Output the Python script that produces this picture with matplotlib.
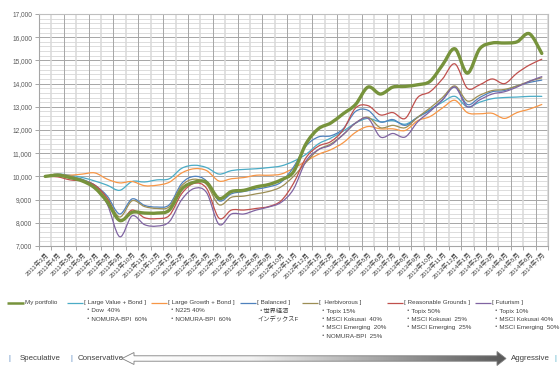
import numpy as np
import matplotlib
matplotlib.use("Agg")
import matplotlib.pyplot as plt
from matplotlib.path import Path
from matplotlib.patches import PathPatch, Polygon
from matplotlib.colors import LinearSegmentedColormap

plt.rcParams['font.family'] = ['Liberation Sans', 'Noto Sans CJK JP', 'DejaVu Sans']

# months 2011/3 .. 2014/7
months = []
for y in range(2011, 2015):
    for m in range(1, 13):
        if (y == 2011 and m < 3) or (y == 2014 and m > 7):
            continue
        months.append(f"{y}年{m}月")

my_portfolio = [10000, 10050, 9950, 9800, 9500, 8900, 8100, 8450, 8420, 8420,
                8550, 9450, 9750, 9740, 9050, 9350, 9400, 9550, 9650, 9850,
                10200, 11400, 12050, 12300, 12700, 13100, 13850, 13550, 13850, 13880,
                13950, 14100, 14800, 15500, 14450, 15500, 15750, 15750, 15800, 16150,
                15300]
large_value = [10000, 10100, 10050, 9950, 9800, 9620, 9400, 9780, 9760, 9850,
               9900, 10350, 10480, 10380, 10100, 10250, 10300, 10330, 10380, 10450,
               10650, 10950, 11400, 11650, 11950, 12300, 12500, 12350, 12400, 12250,
               12550, 12880, 13200, 13450, 13000, 13200, 13350, 13400, 13420, 13450,
               13450]
large_growth = [10000, 10050, 10050, 10100, 10150, 9880, 9720, 9780, 9600, 9620,
                9750, 10150, 10330, 10250, 9800, 9900, 9950, 10050, 10050, 10100,
                10350, 10650, 10950, 11150, 11450, 11900, 12150, 12050, 12050, 11980,
                12400, 12580, 12950, 13280, 12750, 12700, 12720, 12500, 12750, 12900,
                13100]
balanced = [10000, 10080, 10000, 9870, 9620, 9150, 8380, 9030, 8750, 8680,
            8780, 9700, 10000, 9800, 8950, 9250, 9350, 9450, 9550, 9750,
            10400, 11300, 11700, 11750, 12050, 12800, 12850, 12350, 12450, 12200,
            12550, 12850, 13300, 13850, 13100, 13400, 13650, 13700, 13900, 14050,
            14150]
herbivorous = [10000, 10100, 10000, 9850, 9600, 9050, 8250, 8950, 8700, 8620,
               8700, 9600, 9880, 9650, 8780, 9100, 9150, 9250, 9350, 9550,
               10000, 10600, 11150, 11400, 11800, 12300, 12550, 12100, 12200, 12100,
               12550, 12950, 13400, 13900, 13250, 13500, 13700, 13750, 13900, 14100,
               14250]
reasonable = [10000, 9980, 9850, 9800, 9620, 9050, 8080, 8550, 8220, 8180,
              8320, 9260, 9700, 9480, 8200, 8550, 8550, 8620, 8700, 8950,
              9700, 10800, 11300, 11500, 12000, 12950, 13050, 12650, 12750, 12500,
              13400, 13650, 14200, 14850, 13800, 13950, 14200, 14000, 14450, 14800,
              15050]
futurism = [10000, 10050, 9950, 9800, 9550, 8800, 7400, 8300, 7920, 7860,
            8050, 9000, 9480, 9300, 7930, 8380, 8380, 8550, 8680, 8880,
            9450, 10650, 11150, 11350, 11800, 12300, 12500, 11700, 11850, 11700,
            12350, 12800, 13300, 13850, 13000, 13300, 13550, 13650, 13850, 14100,
            14300]

series_names = ["My portfolio", "[ Large Value + Bond ]", "[ Large Growth + Bond ]",
                "[ Balanced ]", "[  Herbivorous ]", "[ Reasonable Grounds ]", "[ Futurism ]"]
series_values = [my_portfolio, large_value, large_growth, balanced,
                 herbivorous, reasonable, futurism]
series_notes = [[],
                ["・Dow  40%", "・NOMURA-BPI  60%"],
                ["・N225 40%", "・NOMURA-BPI  60%"],
                ["・世界経済", "インデックスF"],
                ["・Topix 15%", "・MSCI Kokusai  40%", "・MSCI Emerging  20%", "・NOMURA-BPI  25%"],
                ["・Topix 50%", "・MSCI Kokusai  25%", "・MSCI Emerging  25%"],
                ["・Topix 10%", "・MSCI Kokusai 40%", "・MSCI Emerging  50%"]]
colors = ["#77933C", "#4BACC6", "#F79646", "#4F81BD", "#9C8E55", "#C0504D", "#8064A2"]
y_ticks = list(range(7000, 17001, 1000))


def smooth_path(xs, ys):
    # Excel-like smoothed line: Catmull-Rom segments as cubic Beziers
    pts = np.column_stack([xs, ys]).astype(float)
    n = len(pts)
    verts = [pts[0]]
    codes = [Path.MOVETO]
    for i in range(n - 1):
        p0 = pts[i - 1] if i > 0 else pts[i]
        p1 = pts[i]
        p2 = pts[i + 1]
        p3 = pts[i + 2] if i + 2 < n else pts[i + 1]
        verts += [p1 + (p2 - p0) / 6.0, p2 - (p3 - p1) / 6.0, p2]
        codes += [Path.CURVE4] * 3
    return Path(verts, codes)


fig = plt.figure(figsize=(5.6, 3.72), dpi=100)
ax = fig.add_axes([39 / 560, 1 - 246 / 372, 509 / 560, 232 / 372])

x = np.arange(len(months))
ax.set_xlim(-0.5, len(months) - 0.5)
ax.set_ylim(7000, 17000)

# gridlines
for v in range(7000, 17001, 200):
    ax.axhline(v, color="#a6a6a6" if v % 1000 == 0 else "#dcdcdc", lw=0.7, zorder=0)
for i in range(len(months) + 1):
    ax.axvline(i - 0.5, color="#a6a6a6" if i % 2 == 0 else "#d9d9d9",
               lw=0.7 if i % 2 == 0 else 1.1, zorder=0)

widths = [2.4, 0.9, 0.9, 0.9, 0.9, 0.9, 0.9]
for vals, col, lw in zip(series_values, colors, widths):
    ax.add_patch(PathPatch(smooth_path(x, vals), fill=False, edgecolor=col, lw=lw,
                           capstyle="round", joinstyle="round", zorder=3 if lw > 2 else 2))

ax.set_yticks(y_ticks)
ax.set_yticklabels([f"{v:,}" for v in y_ticks], fontsize=4.7, color="#595959")
ax.set_xticks(x)
ax.set_xticklabels(months, rotation=45, ha="right", rotation_mode="anchor",
                   fontsize=4.6, color="#404040")
ax.set_xticks(np.arange(len(months) + 1) - 0.5, minor=True)
ax.tick_params(axis="x", which="major", length=0, pad=3.5)
ax.tick_params(axis="x", which="minor", length=3, color="#a6a6a6", width=0.7)
ax.tick_params(axis="y", length=3, color="#a6a6a6", width=0.7, pad=2)
for s in ax.spines.values():
    s.set_color("#bfbfbf")
    s.set_linewidth(0.8)
ax.spines["left"].set_color("#a6a6a6")
ax.spines["bottom"].set_color("#a6a6a6")

# overlay for legend and bottom scale
ov = fig.add_axes([0, 0, 1, 1])
ov.patch.set_alpha(0)
ov.axis("off")

line_x = [(7, 24), (67, 83), (151, 167), (240, 256), (302, 318), (387, 403), (475, 491)]
for (x0, x1), name, notes, col, lw in zip(line_x, series_names, series_notes, colors, widths):
    ov.plot([x0, x1], [302.5, 302.5], color=col, lw=1.8 if lw > 2 else 0.9,
            solid_capstyle="butt")
    ov.text(x1 + 1, 302.5, name, fontsize=4.5, color="#404040", va="center", ha="left")
    for k, note in enumerate(notes):
        xo = x1 + 2 if note.startswith("・") else x1 + 1
        ov.text(xo, 311 + 8.5 * k, note, fontsize=4.5, color="#404040", va="center", ha="left")

ov.text(9, 358.5, "|", fontsize=5.5, color="#4F81BD", va="center", ha="center")
ov.text(20, 358.5, "Speculative", fontsize=5.7, color="#404040", va="center", ha="left")
ov.text(71, 358.5, "|", fontsize=5.5, color="#4F81BD", va="center", ha="center")
ov.text(78, 358.5, "Conservative", fontsize=5.7, color="#404040", va="center", ha="left")
ov.text(511, 358.5, "Aggressive", fontsize=5.7, color="#404040", va="center", ha="left")
ov.text(555, 358.5, "|", fontsize=5.5, color="#4BACC6", va="center", ha="center")

arrow_pts = [(122, 358.5), (134, 352.5), (134, 355.8), (497, 355.8), (497, 351.5),
             (506, 358.5), (497, 365.5), (497, 361.2), (134, 361.2), (134, 364.5)]
grad = np.linspace(0, 1, 256).reshape(1, -1)
cmap = LinearSegmentedColormap.from_list("g", ["#ffffff", "#f2f2f2", "#a6a6a6", "#595959"])
im = ov.imshow(grad, cmap=cmap, extent=[122, 506, 366, 351], aspect="auto", zorder=1)
poly = Polygon(arrow_pts, closed=True, fill=False, edgecolor="#7f7f7f", lw=0.6, zorder=2)
ov.add_patch(poly)
im.set_clip_path(poly)

ov.set_xlim(0, 560)
ov.set_ylim(372, 0)

fig.savefig("out.png", dpi=100, facecolor="white")
